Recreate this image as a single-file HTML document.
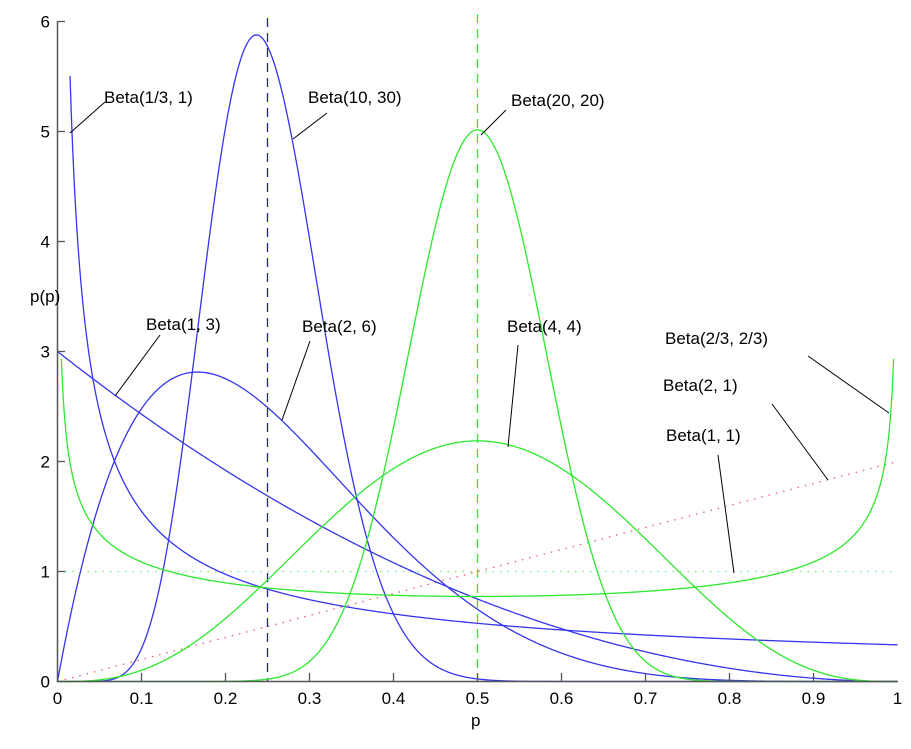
<!DOCTYPE html>
<html><head><style>
body{margin:0;background:#fff;}
svg text{font-family:"Liberation Sans",Arial,sans-serif;font-size:17px;fill:#000;}
</style></head><body>
<svg id="s" width="911" height="744" xmlns="http://www.w3.org/2000/svg">
<rect width="911" height="744" fill="#fff"/>
<g id="curves"></g>
<line x1="57.5" y1="21" x2="57.5" y2="682" stroke="#555" stroke-width="1.5"/>
<line x1="57" y1="681.5" x2="898" y2="681.5" stroke="#555" stroke-width="1.5"/>
<g id="ticks"></g>
<text x="30" y="302" font-size="17">p(p)</text>
<text x="471" y="726">p</text>
<g stroke="#000" stroke-width="1">
<line x1="105" y1="102" x2="70" y2="133"/>
<line x1="327" y1="113" x2="293" y2="139"/>
<line x1="506" y1="110" x2="481" y2="135"/>
<line x1="160" y1="335" x2="115" y2="396"/>
<line x1="310" y1="341" x2="282" y2="420"/>
<line x1="518" y1="345" x2="508" y2="447"/>
<line x1="808" y1="356" x2="889" y2="413"/>
<line x1="772" y1="404" x2="828" y2="480"/>
<line x1="718" y1="455" x2="734" y2="573"/>
</g>
<text x="104" y="103">Beta(1/3, 1)</text>
<text x="308" y="103">Beta(10, 30)</text>
<text x="511" y="106">Beta(20, 20)</text>
<text x="146" y="330">Beta(1, 3)</text>
<text x="302" y="332">Beta(2, 6)</text>
<text x="507" y="332">Beta(4, 4)</text>
<text x="665" y="344">Beta(2/3, 2/3)</text>
<text x="663" y="391">Beta(2, 1)</text>
<text x="666" y="441">Beta(1, 1)</text>
</svg>
<script>
function lg(z){var g=7,c=[0.99999999999980993,676.5203681218851,-1259.1392167224028,771.32342877765313,-176.61502916214059,12.507343278686905,-0.13857109526572012,9.9843695780195716e-6,1.5056327351493116e-7];
if(z<0.5)return Math.log(Math.PI/Math.sin(Math.PI*z))-lg(1-z);z-=1;var x=c[0];for(var i=1;i<g+2;i++)x+=c[i]/(z+i);var t=z+g+0.5;return 0.5*Math.log(2*Math.PI)+(z+0.5)*Math.log(t)-t+Math.log(x);}
function pdf(a,b,p){p=Math.min(Math.max(p,1e-12),1-1e-12);return Math.exp((a-1)*Math.log(p)+(b-1)*Math.log(1-p)-lg(a)-lg(b)+lg(a+b));}
var X=function(p){return 57.5+840*p},Y=function(v){return 681.5-110*v};
var B="#3535ee",G="#2ee82e",g=document.getElementById('curves'),ns="http://www.w3.org/2000/svg";
function path(d,col,dash){var e=document.createElementNS(ns,'path');e.setAttribute('d',d);e.setAttribute('stroke',col);e.setAttribute('fill','none');e.setAttribute('stroke-width','1.3');if(dash)e.setAttribute('stroke-dasharray',dash);g.appendChild(e);}
function curve(a,b,col,p0,p1){var d='';for(var i=0;i<=600;i++){var p=p0+(p1-p0)*i/600;var v=pdf(a,b,p);d+=(i?'L':'M')+X(p).toFixed(2)+' '+Y(v).toFixed(2);}path(d,col);}
path('M'+X(0)+' '+Y(1)+'L'+X(1)+' '+Y(1),'#7be87b','1.5 6');
path('M'+X(0)+' '+Y(0)+'L'+X(1)+' '+Y(2),'#e86060','1.5 6');
path('M'+X(0.25)+' 18L'+X(0.25)+' 681','#2020b0','9 6');
path('M'+X(0.5)+' 14L'+X(0.5)+' 681',G,'9 6');
curve(1/3,1,B,0.0149,1);
curve(10,30,B,0.001,0.999);
curve(1,3,B,0,1);
curve(2,6,B,0,1);
curve(20,20,G,0.001,0.999);
curve(4,4,G,0,1);
curve(2/3,2/3,G,0.0046,0.9954);
var t=document.getElementById('ticks'),h='';
for(var i=0;i<=10;i++){var x=X(i/10);if(i>0&&i<10)h+='<line x1="'+x+'" y1="681" x2="'+x+'" y2="673" stroke="#555" stroke-width="1.3"/>';h+='<text x="'+x+'" y="704" text-anchor="middle">'+(i==0?'0':i==10?'1':'0.'+i)+'</text>';}
for(var j=0;j<=6;j++){var y=Y(j);if(j>0)h+='<line x1="57" y1="'+y+'" x2="65" y2="'+y+'" stroke="#555" stroke-width="1.3"/>';h+='<text x="50" y="'+(y+6)+'" text-anchor="end">'+j+'</text>';}
t.innerHTML=h;
</script>
</body></html>
